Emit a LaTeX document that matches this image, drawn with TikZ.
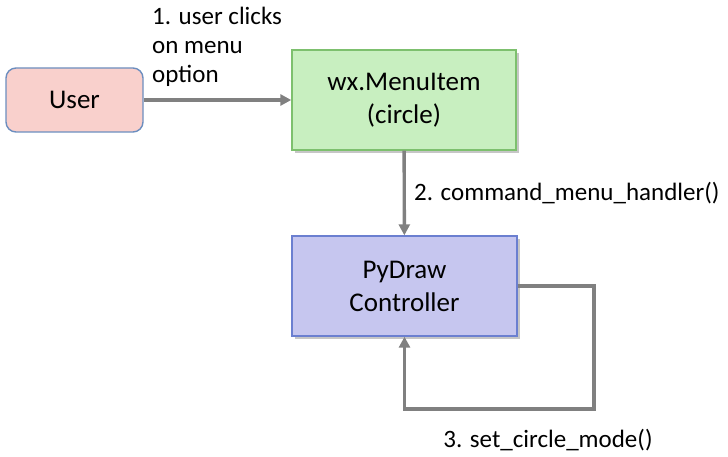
\documentclass[tikz,border=0pt]{standalone}
\usepackage{fontspec}
\setmainfont{Carlito}
\usetikzlibrary{positioning,arrows.meta,shadows}
\definecolor{userfill}{HTML}{F9D0CC}
\definecolor{userline}{HTML}{6C8EBF}
\definecolor{menufill}{HTML}{C8EFC0}
\definecolor{menuline}{HTML}{7DC06E}
\definecolor{ctrlfill}{HTML}{C6C6EF}
\definecolor{ctrlline}{HTML}{6B7FD0}
\definecolor{arrgray}{HTML}{808080}

\begin{document}
\begin{tikzpicture}[x=1pt,y=1pt,
  box/.style={draw,line width=1.4pt,align=center,font=\fontsize{27}{33}\selectfont,
    drop shadow={opacity=0.45,shadow xshift=3pt,shadow yshift=-3pt}},
  lbl/.style={align=left,font=\fontsize{25}{29}\selectfont,inner sep=0pt},
  arr/.style={-{Triangle[length=11pt,width=11pt]},line width=3.4pt,draw=arrgray,color=arrgray}]
  \useasboundingbox (0,0) rectangle (728,456);
  \node[draw=userline,fill=userfill,line width=1.4pt,rounded corners=10pt,align=center,
    font=\fontsize{27}{33}\selectfont,minimum width=137pt,minimum height=64pt] (user) at (74.5,356) {User};
  \node[box,draw=menuline,fill=menufill,minimum width=224pt,minimum height=100pt] (menu) at (404,356) {wx.MenuItem\\(circle)};
  \node[box,draw=ctrlline,fill=ctrlfill,minimum width=225pt,minimum height=100pt] (ctrl) at (404.5,170) {PyDraw\\Controller};
  \coordinate (loop) at (594,47);
  \node[lbl,anchor=north west] (click) at (152,449) {1. user clicks\\on menu\\option};
  \node[lbl,anchor=west] (handler) at (414,263) {2. command\_menu\_handler()};
  \node[lbl] (mode) at (548,16) {3. set\_circle\_mode()};
  \draw[arr] (user) -- (menu);
  \draw[arr] (menu) -- (ctrl);
  \draw[arr] (ctrl.east) -| (loop) -| (ctrl.south);
\end{tikzpicture}
\end{document}
